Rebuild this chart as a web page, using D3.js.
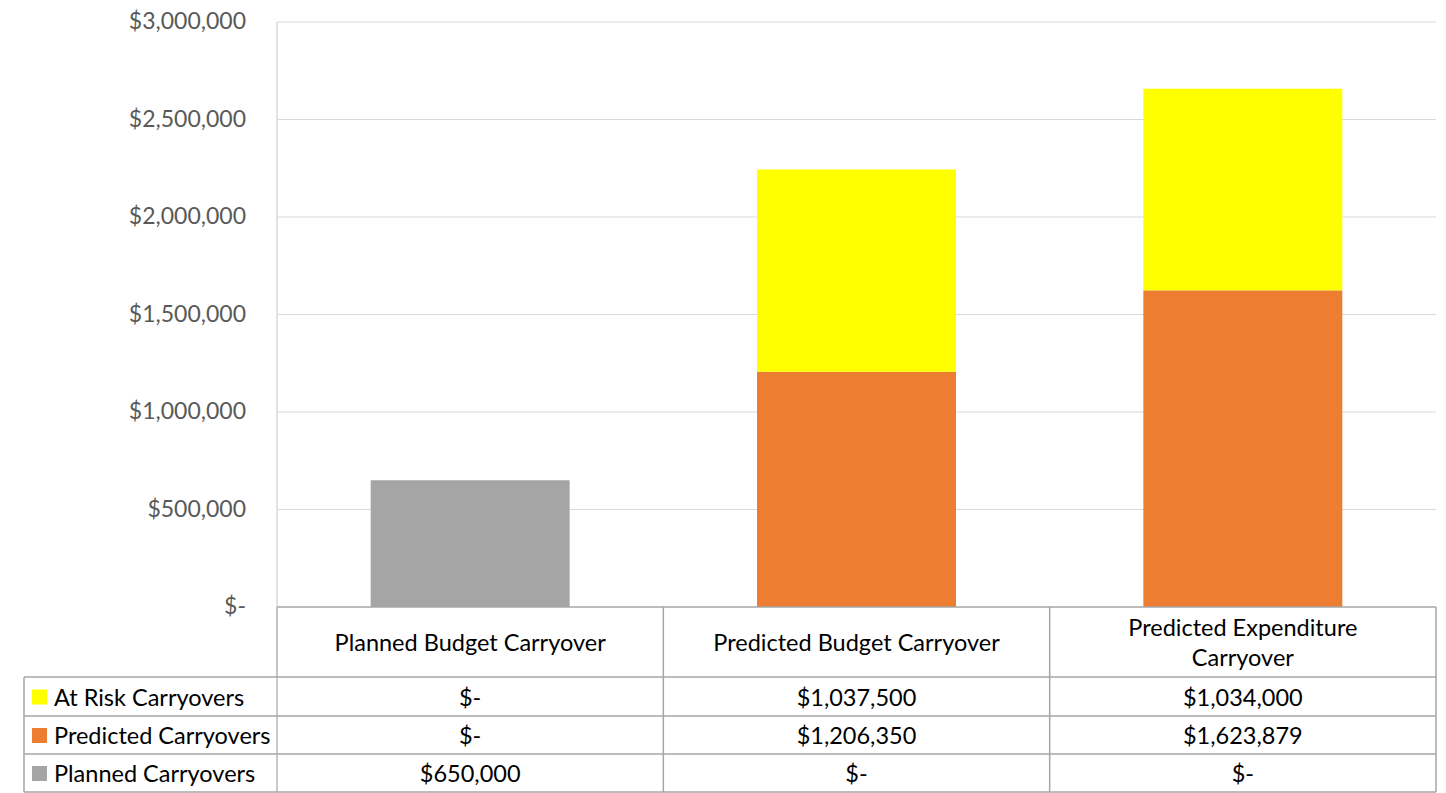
<!DOCTYPE html>
<html>
<head>
<meta charset="utf-8">
<script src="https://cdn.jsdelivr.net/npm/d3@7"></script>
<style>
  html, body { margin: 0; padding: 0; background: #fff; }
  svg { display: block; }
  text { font-family: Lato, "Open Sans", sans-serif; }
</style>
</head>
<body>
<svg id="chart" width="1446" height="793"></svg>
<script>
// Categories and series
const categories = [
  ["Planned Budget Carryover"],
  ["Predicted Budget Carryover"],
  ["Predicted Expenditure", "Carryover"]
];
const seriesNames = ["At Risk Carryovers", "Predicted Carryovers", "Planned Carryovers"];
const plannedCarryovers = [650000, 0, 0];
const predictedCarryovers = [0, 1206350, 1623879];
const atRiskCarryovers = [0, 1037500, 1034000];
const yTicks = [0, 500000, 1000000, 1500000, 2000000, 2500000, 3000000];
const seriesColors = ["#FFFF00", "#ED7D31", "#A5A5A5"];

const svg = d3.select("#chart");
const plotLeft = 277, plotRight = 1436, plotTop = 22, plotBase = 607;
const tableLeft = 24, headerBottom = 677;
const rowLines = [677, 716, 754, 792];
const tableFont = "23.5px";

const x = d3.scaleBand().domain(d3.range(categories.length)).range([plotLeft, plotRight]).paddingInner(0.485).paddingOuter(0.2425);
const y = d3.scaleLinear().domain([0, 3000000]).range([plotBase, plotTop]);

const fmt = v => v === 0 ? "$-" : "$" + d3.format(",")(v);

// Gridlines
svg.append("g").selectAll("line").data(yTicks.filter(t => t > 0)).join("line")
  .attr("x1", plotLeft).attr("x2", plotRight)
  .attr("y1", d => y(d)).attr("y2", d => y(d))
  .attr("stroke", "#d9d9d9").attr("stroke-width", 1);

// Y axis
const yAxis = d3.axisLeft(y).tickValues(yTicks).tickFormat(fmt).tickSize(0).tickPadding(31);
const yg = svg.append("g").attr("transform", `translate(${plotLeft},0)`).call(yAxis);
yg.select(".domain").remove();
yg.selectAll("text").attr("fill", "#595959").style("font-size", "23px").attr("dy", "0.3em");

// Stacked bars
const rows = categories.map((c, i) => ({
  i, planned: plannedCarryovers[i], predicted: predictedCarryovers[i], atRisk: atRiskCarryovers[i]
}));
const stack = d3.stack().keys(["planned", "predicted", "atRisk"])(rows);
const keyColor = { planned: "#A5A5A5", predicted: "#ED7D31", atRisk: "#FFFF00" };
svg.append("g").selectAll("g").data(stack).join("g")
  .attr("fill", d => keyColor[d.key])
  .selectAll("rect").data(d => d.filter(p => p[1] > p[0])).join("rect")
  .attr("x", d => x(d.data.i)).attr("width", x.bandwidth())
  .attr("y", d => y(d[1])).attr("height", d => y(d[0]) - y(d[1]));

// Vertical axis line
svg.append("line").attr("x1", plotLeft).attr("x2", plotLeft).attr("y1", plotTop).attr("y2", headerBottom)
  .attr("stroke", "#d9d9d9").attr("stroke-width", 1.5);

// Data table
const colEdges = d3.range(categories.length + 1).map(i => plotLeft + (plotRight - plotLeft) * i / categories.length);
const tg = svg.append("g");
const border = "#a6a6a6";

tg.append("line").attr("x1", plotLeft).attr("x2", plotRight).attr("y1", plotBase).attr("y2", plotBase)
  .attr("stroke", border).attr("stroke-width", 1.5);
colEdges.forEach((cx, i) => {
  tg.append("line").attr("x1", cx).attr("x2", cx).attr("y1", plotBase).attr("y2", rowLines[3])
    .attr("stroke", i === 0 ? "#b8b8b8" : border).attr("stroke-width", 1.5);
});
tg.append("line").attr("x1", tableLeft).attr("x2", tableLeft).attr("y1", rowLines[0]).attr("y2", rowLines[3])
  .attr("stroke", border).attr("stroke-width", 1.5);
rowLines.forEach(ry => {
  tg.append("line").attr("x1", tableLeft).attr("x2", plotRight).attr("y1", ry).attr("y2", ry)
    .attr("stroke", border).attr("stroke-width", 1.5);
});

// Category headers
categories.forEach((lines, i) => {
  const cx = (colEdges[i] + colEdges[i + 1]) / 2;
  const cy = (plotBase + headerBottom) / 2;
  const lh = 30;
  lines.forEach((ln, k) => {
    tg.append("text").attr("x", cx).attr("y", cy + (k - (lines.length - 1) / 2) * lh)
      .attr("text-anchor", "middle").attr("dominant-baseline", "central")
      .attr("fill", "#000").style("font-size", tableFont).text(ln);
  });
});

// Table rows: legend keys, names and values
const rowValues = [atRiskCarryovers, predictedCarryovers, plannedCarryovers];
seriesNames.forEach((name, r) => {
  const cy = (rowLines[r] + rowLines[r + 1]) / 2;
  tg.append("rect").attr("x", 32).attr("y", cy - 7).attr("width", 15).attr("height", 15)
    .attr("fill", seriesColors[r]);
  tg.append("text").attr("x", 54).attr("y", cy).attr("dominant-baseline", "central")
    .attr("fill", "#000").style("font-size", tableFont).text(name);
  rowValues[r].forEach((v, i) => {
    const cx = (colEdges[i] + colEdges[i + 1]) / 2;
    tg.append("text").attr("x", cx).attr("y", cy).attr("text-anchor", "middle")
      .attr("dominant-baseline", "central").attr("fill", "#000").style("font-size", tableFont).text(fmt(v));
  });
});
</script>
</body>
</html>
